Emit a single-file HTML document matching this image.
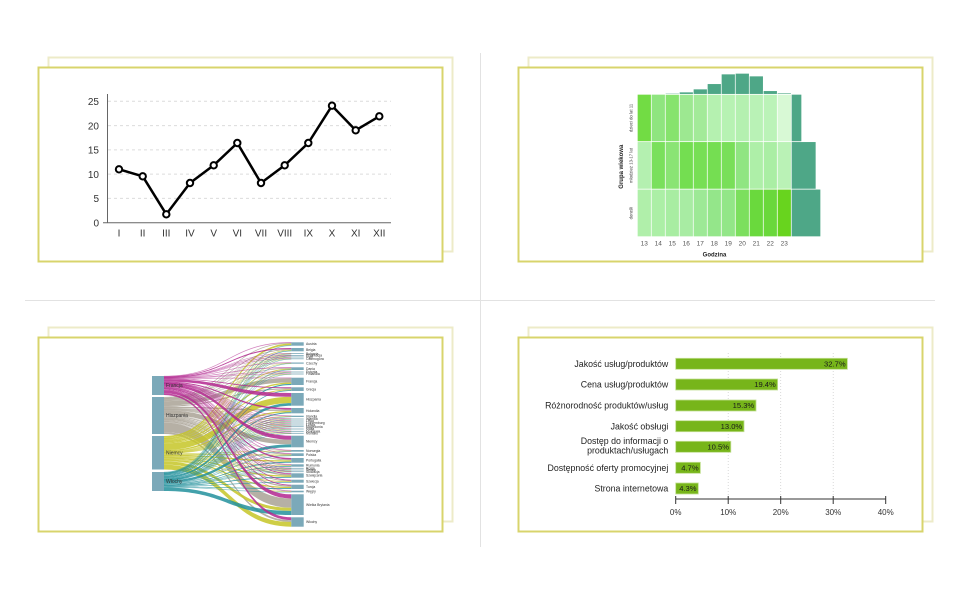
<!DOCTYPE html>
<html>
<head>
<meta charset="utf-8">
<style>
html,body{margin:0;padding:0;background:#fff;}
svg{display:block;}
text{font-family:"Liberation Sans",Arial,sans-serif;}
</style>
</head>
<body>
<svg id="root" width="960" height="600" viewBox="0 0 960 600" xmlns="http://www.w3.org/2000/svg">
  <!-- dividers -->
  <line x1="25" y1="300.5" x2="935" y2="300.5" stroke="#e2e2e2" stroke-width="1"/>
  <line x1="480.5" y1="53" x2="480.5" y2="547" stroke="#e2e2e2" stroke-width="1"/>

  <!-- back cards -->
  <rect x="48.5" y="57.5" width="404" height="194" fill="#fff" stroke="#edebc8" stroke-width="2"/>
  <rect x="528.5" y="57.5" width="404" height="194" fill="#fff" stroke="#edebc8" stroke-width="2"/>
  <rect x="48.5" y="327.5" width="404" height="194" fill="#fff" stroke="#edebc8" stroke-width="2"/>
  <rect x="528.5" y="327.5" width="404" height="194" fill="#fff" stroke="#edebc8" stroke-width="2"/>
  <!-- front cards -->
  <rect x="38.5" y="67.5" width="404" height="194" fill="#fff" stroke="#d8d46c" stroke-width="2"/>
  <rect x="518.5" y="67.5" width="404" height="194" fill="#fff" stroke="#d8d46c" stroke-width="2"/>
  <rect x="38.5" y="337.5" width="404" height="194" fill="#fff" stroke="#d8d46c" stroke-width="2"/>
  <rect x="518.5" y="337.5" width="404" height="194" fill="#fff" stroke="#d8d46c" stroke-width="2"/>

  <!-- ============ LINE CHART ============ -->
  <g id="lc">
    <g stroke="#dcdcdc" stroke-width="1" stroke-dasharray="3,3">
      <line x1="108" y1="101.3" x2="391" y2="101.3"/>
      <line x1="108" y1="125.6" x2="391" y2="125.6"/>
      <line x1="108" y1="149.9" x2="391" y2="149.9"/>
      <line x1="108" y1="174.1" x2="391" y2="174.1"/>
      <line x1="108" y1="198.4" x2="391" y2="198.4"/>
    </g>
    <line x1="107.5" y1="94" x2="107.5" y2="223" stroke="#666" stroke-width="1"/>
    <line x1="103" y1="222.7" x2="391" y2="222.7" stroke="#666" stroke-width="1"/>
    <g font-size="10" fill="#333" text-anchor="end">
      <text x="99" y="105">25</text>
      <text x="99" y="129.3">20</text>
      <text x="99" y="153.6">15</text>
      <text x="99" y="177.8">10</text>
      <text x="99" y="202.1">5</text>
      <text x="99" y="226.4">0</text>
    </g>
    <g font-size="10" fill="#333" text-anchor="middle">
      <text x="119" y="236.3">I</text>
      <text x="142.7" y="236.3">II</text>
      <text x="166.3" y="236.3">III</text>
      <text x="190" y="236.3">IV</text>
      <text x="213.7" y="236.3">V</text>
      <text x="237.3" y="236.3">VI</text>
      <text x="261" y="236.3">VII</text>
      <text x="284.7" y="236.3">VIII</text>
      <text x="308.3" y="236.3">IX</text>
      <text x="332" y="236.3">X</text>
      <text x="355.7" y="236.3">XI</text>
      <text x="379.3" y="236.3">XII</text>
    </g>
    <polyline fill="none" stroke="#000" stroke-width="2.5" stroke-linejoin="round"
      points="119,169.3 142.7,176.3 166.3,214.3 190,183 213.7,165.3 237.3,143 261,183 284.7,165.3 308.3,143 332,105.7 355.7,130.3 379.3,116.3"/>
    <g fill="#fff" stroke="#000" stroke-width="2">
      <circle cx="119" cy="169.3" r="3.2"/>
      <circle cx="142.7" cy="176.3" r="3.2"/>
      <circle cx="166.3" cy="214.3" r="3.2"/>
      <circle cx="190" cy="183" r="3.2"/>
      <circle cx="213.7" cy="165.3" r="3.2"/>
      <circle cx="237.3" cy="143" r="3.2"/>
      <circle cx="261" cy="183" r="3.2"/>
      <circle cx="284.7" cy="165.3" r="3.2"/>
      <circle cx="308.3" cy="143" r="3.2"/>
      <circle cx="332" cy="105.7" r="3.2"/>
      <circle cx="355.7" cy="130.3" r="3.2"/>
      <circle cx="379.3" cy="116.3" r="3.2"/>
    </g>
  </g>

  <!-- ============ HEATMAP ============ -->
  <g id="hm" stroke="#fff" stroke-width="0.7">
    <rect x="637.3" y="94.3" width="14" height="47.4" fill="#72dc44"/>
    <rect x="651.3" y="94.3" width="14" height="47.4" fill="#8fe57f"/>
    <rect x="665.3" y="94.3" width="14" height="47.4" fill="#86e36d"/>
    <rect x="679.3" y="94.3" width="14" height="47.4" fill="#9de891"/>
    <rect x="693.3" y="94.3" width="14" height="47.4" fill="#a3ea99"/>
    <rect x="707.3" y="94.3" width="14" height="47.4" fill="#b5f1b0"/>
    <rect x="721.3" y="94.3" width="14" height="47.4" fill="#b7f2b3"/>
    <rect x="735.3" y="94.3" width="14" height="47.4" fill="#b4f0b0"/>
    <rect x="749.3" y="94.3" width="14" height="47.4" fill="#b9f2b6"/>
    <rect x="763.3" y="94.3" width="14" height="47.4" fill="#bbf3b8"/>
    <rect x="777.3" y="94.3" width="14" height="47.4" fill="#d8f9d5"/>
    <rect x="637.3" y="141.7" width="14" height="47.5" fill="#b4f0b0"/>
    <rect x="651.3" y="141.7" width="14" height="47.5" fill="#7ae05c"/>
    <rect x="665.3" y="141.7" width="14" height="47.5" fill="#8ae474"/>
    <rect x="679.3" y="141.7" width="14" height="47.5" fill="#74de51"/>
    <rect x="693.3" y="141.7" width="14" height="47.5" fill="#77df55"/>
    <rect x="707.3" y="141.7" width="14" height="47.5" fill="#75de52"/>
    <rect x="721.3" y="141.7" width="14" height="47.5" fill="#79df59"/>
    <rect x="735.3" y="141.7" width="14" height="47.5" fill="#90e582"/>
    <rect x="749.3" y="141.7" width="14" height="47.5" fill="#aeefa8"/>
    <rect x="763.3" y="141.7" width="14" height="47.5" fill="#aaeea4"/>
    <rect x="777.3" y="141.7" width="14" height="47.5" fill="#baf2b6"/>
    <rect x="637.3" y="189.2" width="14" height="47.5" fill="#b0efaa"/>
    <rect x="651.3" y="189.2" width="14" height="47.5" fill="#acefa6"/>
    <rect x="665.3" y="189.2" width="14" height="47.5" fill="#a8eda2"/>
    <rect x="679.3" y="189.2" width="14" height="47.5" fill="#a8eca3"/>
    <rect x="693.3" y="189.2" width="14" height="47.5" fill="#9de996"/>
    <rect x="707.3" y="189.2" width="14" height="47.5" fill="#94e68a"/>
    <rect x="721.3" y="189.2" width="14" height="47.5" fill="#93e688"/>
    <rect x="735.3" y="189.2" width="14" height="47.5" fill="#7cdf5e"/>
    <rect x="749.3" y="189.2" width="14" height="47.5" fill="#6ad93d"/>
    <rect x="763.3" y="189.2" width="14" height="47.5" fill="#6ad83b"/>
    <rect x="777.3" y="189.2" width="14" height="47.5" fill="#68d41e"/>
    <g fill="#4ea787">
      <rect x="665.3" y="93.3" width="14" height="1"/>
      <rect x="679.3" y="92" width="14" height="2.3"/>
      <rect x="693.3" y="89" width="14" height="5.3"/>
      <rect x="707.3" y="83.7" width="14" height="10.6"/>
      <rect x="721.3" y="74" width="14" height="20.3"/>
      <rect x="735.3" y="73.3" width="14" height="21"/>
      <rect x="749.3" y="76" width="14" height="18.3"/>
      <rect x="763.3" y="90.7" width="14" height="3.6"/>
      <rect x="777.3" y="93" width="14" height="1.3"/>
      <rect x="791.3" y="94.3" width="10.4" height="47.4"/>
      <rect x="791.3" y="141.7" width="24.7" height="47.5"/>
      <rect x="791.3" y="189.2" width="29.4" height="47.5"/>
    </g>
  </g>
  <g fill="#444" font-size="4.3" text-anchor="middle">
    <text transform="translate(632.6,118) rotate(-90)">dzieci do lat 11</text>
    <text transform="translate(632.6,165.5) rotate(-90)">młodzież 13-17 lat</text>
    <text transform="translate(632.6,213) rotate(-90)">dorośli</text>
  </g>
  <text transform="translate(623,166.7) rotate(-90)" font-size="6" font-weight="bold" fill="#222" text-anchor="middle">Grupa wiekowa</text>
  <g fill="#555" font-size="6.5" text-anchor="middle">
    <text x="644.3" y="245.6">13</text>
    <text x="658.3" y="245.6">14</text>
    <text x="672.3" y="245.6">15</text>
    <text x="686.3" y="245.6">16</text>
    <text x="700.3" y="245.6">17</text>
    <text x="714.3" y="245.6">18</text>
    <text x="728.3" y="245.6">19</text>
    <text x="742.3" y="245.6">20</text>
    <text x="756.3" y="245.6">21</text>
    <text x="770.3" y="245.6">22</text>
    <text x="784.3" y="245.6">23</text>
  </g>
  <text x="714.5" y="256.6" font-size="6" font-weight="bold" fill="#222" text-anchor="middle">Godzina</text>

  <!-- ============ SANKEY ============ -->
  <g id="skflows"></g>
  <g id="sknodes"></g>
  <g id="sklabels"></g>

  <!-- ============ BAR CHART ============ -->
  <g stroke="#cfcfcf" stroke-width="0.8" stroke-dasharray="1,2">
    <line x1="728.2" y1="353" x2="728.2" y2="499"/>
    <line x1="780.7" y1="353" x2="780.7" y2="499"/>
    <line x1="833.2" y1="353" x2="833.2" y2="499"/>
  </g>
  <g fill="#77b51a" stroke="#c2df93" stroke-width="0.8">
    <rect x="675.7" y="358.3" width="171.7" height="11"/>
    <rect x="675.7" y="379" width="101.9" height="11"/>
    <rect x="675.7" y="400" width="80.3" height="11"/>
    <rect x="675.7" y="420.7" width="68.3" height="11"/>
    <rect x="675.7" y="441.3" width="55.1" height="11"/>
    <rect x="675.7" y="462.3" width="24.7" height="11"/>
    <rect x="675.7" y="483" width="22.6" height="11"/>
  </g>
  <g font-size="7.6" fill="#1a1a1a" text-anchor="end">
    <text x="845.6" y="366.5">32.7%</text>
    <text x="775.8" y="387.2">19.4%</text>
    <text x="754.2" y="408.2">15.3%</text>
    <text x="742.2" y="428.9">13.0%</text>
    <text x="729" y="449.5">10.5%</text>
    <text x="698.6" y="470.5">4.7%</text>
    <text x="696.5" y="491.2">4.3%</text>
  </g>
  <g font-size="8.8" fill="#222" text-anchor="end">
    <text x="668.3" y="367">Jakość usług/produktów</text>
    <text x="668.3" y="387.7">Cena usług/produktów</text>
    <text x="668.3" y="408.7">Różnorodność produktów/usług</text>
    <text x="668.3" y="429.4">Jakość obsługi</text>
    <text x="668.3" y="444.2">Dostęp do informacji o</text>
    <text x="668.3" y="453.6">produktach/usługach</text>
    <text x="668.3" y="471">Dostępność oferty promocyjnej</text>
    <text x="668.3" y="491.7">Strona internetowa</text>
  </g>
  <line x1="675.7" y1="499" x2="885.7" y2="499" stroke="#333" stroke-width="1"/>
  <g stroke="#333" stroke-width="1">
    <line x1="675.7" y1="496" x2="675.7" y2="504"/>
    <line x1="728.2" y1="496" x2="728.2" y2="504"/>
    <line x1="780.7" y1="496" x2="780.7" y2="504"/>
    <line x1="833.2" y1="496" x2="833.2" y2="504"/>
    <line x1="885.7" y1="496" x2="885.7" y2="504"/>
  </g>
  <g font-size="8" fill="#333" text-anchor="middle">
    <text x="675.7" y="514.8">0%</text>
    <text x="728.2" y="514.8">10%</text>
    <text x="780.7" y="514.8">20%</text>
    <text x="833.2" y="514.8">30%</text>
    <text x="885.7" y="514.8">40%</text>
  </g>
</svg>
<script>
(function(){
  var NS="http://www.w3.org/2000/svg";
  var fl=document.getElementById('skflows');
  var nd=document.getElementById('sknodes');
  var lb=document.getElementById('sklabels');
  var L=[["Francja",376,395,"#b3278f"],["Hiszpania",397,434,"#a9a295"],["Niemcy",436,469.5,"#c6c627"],["Włochy",472,491,"#22909c"]];
  var R=[
   ["Austria",342.3,345.7,[0.15,0.2,0.5,0.15]],
   ["Belgia",348,351.3,[0.35,0.25,0.2,0.2]],
   ["Bułgaria",353.2,354.0],
   ["Chorwacja",355.0,355.8],
   ["Cypr",356.6,357.4],
   ["Czarnogóra",358.4,359.2],
   ["Czechy",362.5,363.7],
   ["Dania",367.3,370,[0.2,0.3,0.3,0.2]],
   ["Estonia",371.6,372.4],
   ["Finlandia",373.6,374.4],
   ["Francja",377.7,385,[0.05,0.6,0.2,0.15]],
   ["Grecja",387.3,391,[0.25,0.3,0.25,0.2]],
   ["Hiszpania",393,405.7,[0.3,0,0.5,0.2]],
   ["Holandia",408,413.3,[0.3,0.25,0.25,0.2]],
   ["Irlandia",415.7,417],
   ["Islandia",418.6,419.4],
   ["Litwa",420.6,421.4],
   ["Luksemburg",422.6,423.4],
   ["Łotwa",424.6,425.4],
   ["Macedonia",426.3,427.1],
   ["Malta",428.6,429.4],
   ["Mołdawia",430.9,431.7],
   ["Monako",432.9,433.7],
   ["Niemcy",435.7,447.3,[0.35,0.4,0,0.25]],
   ["Norwegia",450,451.7],
   ["Polska",453.3,456,[0.2,0.3,0.3,0.2]],
   ["Portugalia",458,462.7,[0.3,0.2,0.3,0.2]],
   ["Rumunia",464.3,466.7],
   ["Rosja",467.9,468.7],
   ["Serbia",469.6,470.4],
   ["Słowacja",471.3,472.1],
   ["Szwajcaria",473.3,477.7,[0.2,0.3,0.3,0.2]],
   ["Szwecja",479.7,482.7,[0.25,0.3,0.25,0.2]],
   ["Turcja",484.7,489,[0.2,0.3,0.3,0.2]],
   ["Węgry",490.7,492.3],
   ["Wielka Brytania",494.3,515,[0.2,0.45,0.15,0.2]],
   ["Włochy",517.3,526.7,[0.3,0.2,0.5,0]]
  ];
  var base=[[0.3,0.25,0.25,0.2],[0.2,0.35,0.25,0.2],[0.25,0.25,0.3,0.2],[0.2,0.3,0.2,0.3]];
  R.forEach(function(r,i){ if(!r[3]) r[3]=base[i%4]; });
  var x0=164,x1=291.3,xm=(x0+x1)/2;
  var tot=[0,0,0,0];
  R.forEach(function(r){var h=r[2]-r[1];for(var s=0;s<4;s++)tot[s]+=r[3][s]*h;});
  var k=L.map(function(l,s){return (l[2]-l[1])/tot[s];});
  var lc=L.map(function(l){return l[1];});
  var flows=[];
  R.forEach(function(r,t){
    var h=r[2]-r[1], rc=r[1];
    for(var s=0;s<4;s++){
      var w=r[3][s]*h; if(w<=0) continue;
      var lw=w*k[s];
      flows.push({s:s,ly0:lc[s],ly1:lc[s]+lw,ry0:rc,ry1:rc+w});
      lc[s]+=lw; rc+=w;
    }
  });
  var order=[1,2,3,0];
  order.forEach(function(s){
    flows.forEach(function(f){
      if(f.s!==s) return;
      var p=document.createElementNS(NS,'path');
      var d="M"+x0+","+f.ly0+" C"+xm+","+f.ly0+" "+xm+","+f.ry0+" "+x1+","+f.ry0+
            " L"+x1+","+f.ry1+" C"+xm+","+f.ry1+" "+xm+","+f.ly1+" "+x0+","+f.ly1+" Z";
      p.setAttribute('d',d);
      p.setAttribute('fill',L[s][3]);
      var w=f.ry1-f.ry0;
      p.setAttribute('fill-opacity',w<0.6?0.5:0.85);
      if(w<0.6){p.setAttribute('stroke',L[s][3]);p.setAttribute('stroke-width','0.3');p.setAttribute('stroke-opacity','0.5');}
      fl.appendChild(p);
    });
  });
  function rect(x,y,w,h){var e=document.createElementNS(NS,'rect');e.setAttribute('x',x);e.setAttribute('y',y);e.setAttribute('width',w);e.setAttribute('height',h);e.setAttribute('fill','#7ba9b9');nd.appendChild(e);}
  function txt(x,y,s,fs){var e=document.createElementNS(NS,'text');e.setAttribute('x',x);e.setAttribute('y',y);e.setAttribute('font-size',fs);e.setAttribute('fill','#333');e.textContent=s;lb.appendChild(e);}
  L.forEach(function(l){rect(152,l[1],12,l[2]-l[1]);txt(166,(l[1]+l[2])/2+1.7,l[0],5);});
  R.forEach(function(r){rect(291.3,r[1],12.4,Math.max(0.7,r[2]-r[1]));txt(306,(r[1]+r[2])/2+1.2,r[0],3.4);});
})();
</script>
</body>
</html>
